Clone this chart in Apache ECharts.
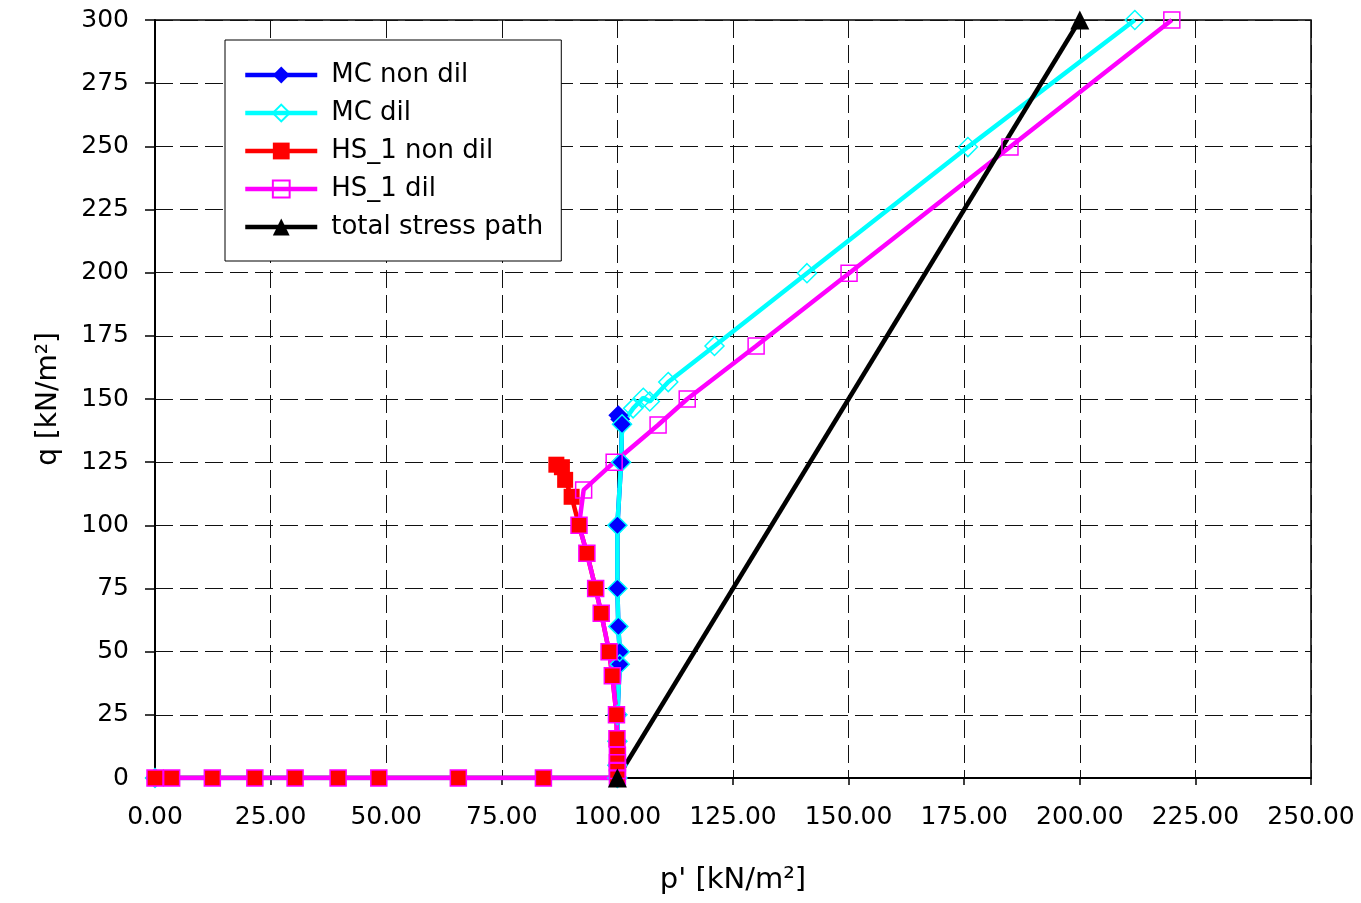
<!DOCTYPE html>
<html>
<head>
<meta charset="utf-8">
<script src="https://cdn.jsdelivr.net/npm/echarts@6/dist/echarts.min.js"></script>
<style>
html,body{margin:0;padding:0;background:#fff;}
#c{width:1361px;height:903px;}
</style>
</head>
<body>
<div id="c"></div>
<script>
// ---- data (p' , q) ----
const seriesNames = ['MC non dil', 'MC dil', 'HS_1 non dil', 'HS_1 dil', 'total stress path'];

const mcNonDilP = [0, 100, 100, 100, 100, 100.5, 100.5, 100.2, 100, 100, 100.8, 101, 100.6, 100.2];
const mcNonDilQ = [0, 0, 5, 14.5, 25, 45, 50, 60, 75, 100, 125, 140, 142, 143.6];

const mcDilP = [0, 100, 100, 100, 100, 100.5, 100.5, 100.2, 100, 100, 100.8, 101, 103.4, 105.6, 107, 111, 121, 141, 175.8, 211.9];
const mcDilQ = [0, 0, 5, 14.5, 25, 45, 50, 60, 75, 100, 125, 140, 146.3, 150.5, 149, 156.7, 171, 199.8, 249.7, 300];

const hsNonDilP = [0, 3.6, 12.4, 21.6, 30.3, 39.6, 48.4, 65.6, 84, 100, 100, 100, 100, 99.9, 99.8, 98.9, 98.2, 96.5, 95.3, 93.4, 91.7, 90.1, 88.7, 88, 86.8];
const hsNonDilQ = [0, 0, 0, 0, 0, 0, 0, 0, 0, 0, 3, 6, 9, 15.5, 25, 40.5, 50, 65.2, 75, 89, 100, 111.3, 118, 123, 124];

const hsDilP = [0, 3.6, 12.4, 21.6, 30.3, 39.6, 48.4, 65.6, 84, 100, 100, 100, 100, 99.9, 99.8, 98.9, 98.2, 96.5, 95.3, 93.4, 91.7, 92.7, 99.3, 108.8, 115.1, 130, 150.1, 184.9, 219.9];
const hsDilQ = [0, 0, 0, 0, 0, 0, 0, 0, 0, 0, 3, 6, 9, 15.5, 25, 40.5, 50, 65.2, 75, 89, 100, 114, 125, 139.7, 150, 171, 199.8, 249.7, 300];

const tspP = [100, 200];
const tspQ = [0, 300];

const xTicks = [0, 25, 50, 75, 100, 125, 150, 175, 200, 225, 250];
const yTicks = [0, 25, 50, 75, 100, 125, 150, 175, 200, 225, 250, 275, 300];

function pairs(p, q) { return p.map((v, i) => [v, q[i]]); }

const FONT = 'DejaVu Sans';
const colors = ['#0000ff', '#00ffff', '#ff0000', '#ff00ff', '#000000'];
const datasets = [pairs(mcNonDilP, mcNonDilQ), pairs(mcDilP, mcDilQ), pairs(hsNonDilP, hsNonDilQ), pairs(hsDilP, hsDilQ), pairs(tspP, tspQ)];
const symbols = ['diamond', 'diamond', 'rect', 'rect', 'triangle'];
const symSizes = [20, 19, 16, 16, 19];
const hollow = [false, true, false, true, false];

const series = [];
// lines (drawn first, like the original)
datasets.forEach((d, i) => {
  series.push({
    name: seriesNames[i],
    type: 'line',
    data: d,
    z: 2,
    showSymbol: false,
    symbol: symbols[i],
    symbolSize: symSizes[i],
    lineStyle: { color: colors[i], width: 4.5 },
    itemStyle: hollow[i]
      ? { color: 'rgba(255,255,255,0)', borderColor: colors[i], borderWidth: 1.5, opacity: 1 }
      : { color: colors[i], opacity: 1 },
    animation: false,
    emphasis: { disabled: true }
  });
});
// markers on top
datasets.forEach((d, i) => {
  series.push({
    name: 'm' + i,
    type: 'scatter',
    data: d,
    z: 3,
    symbol: symbols[i],
    symbolSize: symSizes[i],
    itemStyle: hollow[i]
      ? { color: 'rgba(255,255,255,0)', borderColor: colors[i], borderWidth: 1.5, opacity: 1 }
      : { color: colors[i], opacity: 1 },
    animation: false,
    emphasis: { disabled: true }
  });
});

const splitStyle = { show: true, lineStyle: { color: '#111', width: 1, type: [18, 7] } };

const option = {
  animation: false,
  backgroundColor: '#fff',
  textStyle: { fontFamily: FONT },
  grid: { left: 155, right: 50, top: 20, bottom: 125, show: true, borderColor: '#000', borderWidth: 1.5, backgroundColor: 'transparent' },
  legend: {
    data: seriesNames,
    orient: 'vertical',
    left: 225,
    top: 40,
    padding: [22, 18, 21, 18],
    backgroundColor: '#fff',
    borderColor: '#000',
    borderWidth: 1,
    itemWidth: 72,
    itemHeight: 21,
    itemGap: 12,
    lineStyle: { width: 4.5 },
    textStyle: { fontFamily: FONT, fontSize: 26, color: '#000', padding: [0, 0, 0, 9], lineHeight: 26 },
    selectedMode: false
  },
  xAxis: {
    type: 'value',
    min: xTicks[0],
    max: xTicks[xTicks.length - 1],
    interval: xTicks[1] - xTicks[0],
    name: "p' [kN/m²]",
    nameLocation: 'middle',
    nameGap: 88,
    nameTextStyle: { fontFamily: FONT, fontSize: 29, color: '#000' },
    axisLine: { show: true, onZero: false, lineStyle: { color: '#000', width: 2 } },
    axisTick: { show: true, length: 7, lineStyle: { color: '#000', width: 1.5 } },
    axisLabel: { fontFamily: FONT, fontSize: 25, color: '#000', margin: 27, formatter: v => v.toFixed(2) },
    splitLine: splitStyle
  },
  yAxis: {
    type: 'value',
    min: yTicks[0],
    max: yTicks[yTicks.length - 1],
    interval: yTicks[1] - yTicks[0],
    name: 'q [kN/m²]',
    nameLocation: 'middle',
    nameGap: 92,
    nameRotate: 90,
    nameTextStyle: { fontFamily: FONT, fontSize: 28, color: '#000' },
    axisLine: { show: true, onZero: false, lineStyle: { color: '#000', width: 2 } },
    axisTick: { show: true, length: 10, lineStyle: { color: '#000', width: 1.5 } },
    axisLabel: { fontFamily: FONT, fontSize: 25, color: '#000', margin: 26 },
    splitLine: splitStyle
  },
  series: series
};

const chart = echarts.init(document.getElementById('c'), null, { renderer: 'canvas' });
chart.setOption(option);
</script>
</body>
</html>
